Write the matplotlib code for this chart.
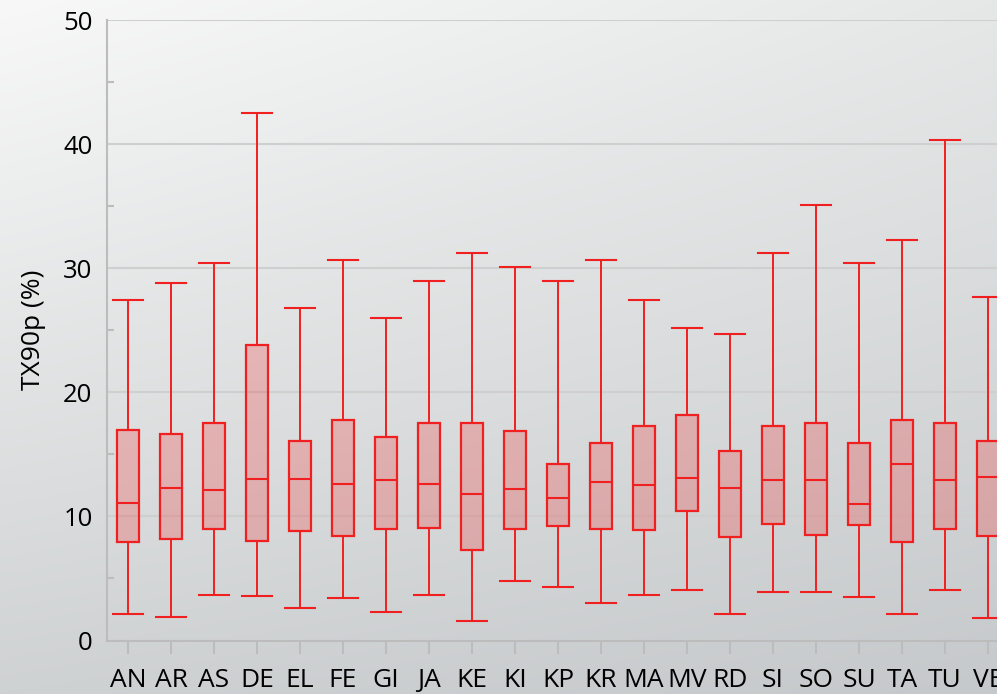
import matplotlib
matplotlib.use('Agg')
import matplotlib.pyplot as plt
import numpy as np

# station codes
stations = ['AN', 'AR', 'AS', 'DE', 'EL', 'FE', 'GI', 'JA', 'KE', 'KI', 'KP',
            'KR', 'MA', 'MV', 'RD', 'SI', 'SO', 'SU', 'TA', 'TU', 'VE']

# TX90p (%) box statistics
whis_low = [2.1, 1.9, 3.7, 3.6, 2.6, 3.4, 2.3, 3.7, 1.6, 4.8, 4.3,
            3.0, 3.7, 4.1, 2.1, 3.9, 3.9, 3.5, 2.1, 4.1, 1.8]
q1 = [7.9, 8.2, 9.0, 8.0, 8.8, 8.4, 9.0, 9.1, 7.3, 9.0, 9.2,
      9.0, 8.9, 10.4, 8.3, 9.4, 8.5, 9.3, 7.9, 9.0, 8.4]
median = [11.1, 12.3, 12.1, 13.0, 13.0, 12.6, 12.9, 12.6, 11.8, 12.2, 11.5,
          12.8, 12.5, 13.1, 12.3, 12.9, 12.9, 11.0, 14.2, 12.9, 13.2]
q3 = [17.0, 16.6, 17.5, 23.8, 16.1, 17.8, 16.4, 17.5, 17.5, 16.9, 14.2,
      15.9, 17.3, 18.2, 15.3, 17.3, 17.5, 15.9, 17.8, 17.5, 16.1]
whis_high = [27.4, 28.8, 30.4, 42.5, 26.8, 30.7, 26.0, 29.0, 31.2, 30.1, 29.0,
             30.7, 27.4, 25.2, 24.7, 31.2, 35.1, 30.4, 32.3, 40.3, 27.7]

W, H, DPI = 997, 694, 100
fig = plt.figure(figsize=(W / DPI, H / DPI), dpi=DPI)

# background gradient (light top-left -> grey bottom-right)
corners = np.array([[[248, 248, 248], [230, 232, 232]],
                    [[207, 210, 211], [198, 201, 203]]]) / 255.0
ty = np.linspace(0, 1, 200)[:, None, None]
tx = np.linspace(0, 1, 300)[None, :, None]
grad = ((1 - ty) * ((1 - tx) * corners[0, 0] + tx * corners[0, 1])
        + ty * ((1 - tx) * corners[1, 0] + tx * corners[1, 1]))
bg = fig.add_axes([0, 0, 1, 1], zorder=-1)
bg.imshow(grad, aspect='auto', extent=(0, 1, 0, 1), interpolation='bilinear')
bg.axis('off')

left, right = 106.5, 106.5 + 43 * 21
top, bottom = 20, 640.5
ax = fig.add_axes([left / W, 1 - bottom / H, (right - left) / W, (bottom - top) / H])
ax.set_facecolor('none')

stats = []
for i, s in enumerate(stations):
    stats.append(dict(label=s, whislo=whis_low[i], q1=q1[i], med=median[i],
                      q3=q3[i], whishi=whis_high[i], fliers=[]))

red = '#f02020'
positions = np.arange(len(stations))
ax.bxp(stats, positions=positions, widths=0.51, capwidths=0.71,
       patch_artist=True, showfliers=False,
       boxprops=dict(facecolor=(1, 0, 0, 0.2), edgecolor=red, linewidth=1.6),
       medianprops=dict(color=red, linewidth=1.5),
       whiskerprops=dict(color=red, linewidth=1.4),
       capprops=dict(color=red, linewidth=1.5))

ax.set_xlim(-0.5, len(stations) - 0.5)
ax.set_ylim(0, 50)
ax.set_yticks(np.arange(0, 51, 10))
ax.set_yticks(np.arange(5, 50, 10), minor=True)
ax.set_xticks(positions)
ax.set_xticklabels(stations)

ax.grid(axis='y', which='major', color='#cfcfcf', linewidth=1.5)
ax.set_axisbelow(True)
for side in ['top', 'right']:
    ax.spines[side].set_visible(False)
for side in ['left', 'bottom']:
    ax.spines[side].set_color('#bcbcbc')
    ax.spines[side].set_linewidth(1.5)

ax.tick_params(axis='y', which='major', length=0, pad=10, labelsize=18.5)
ax.tick_params(axis='y', which='minor', direction='in', length=5,
               width=1.5, color='#bcbcbc')
ax.tick_params(axis='x', direction='out', length=9, width=1.5,
               color='#bcbcbc', pad=11, labelsize=19)
for lbl in ax.get_xticklabels() + ax.get_yticklabels():
    lbl.set_fontfamily('Open Sans')

ax.set_ylabel('TX90p (%)', fontsize=19, fontfamily='Open Sans', labelpad=12)

fig.savefig('out.png', dpi=DPI)
